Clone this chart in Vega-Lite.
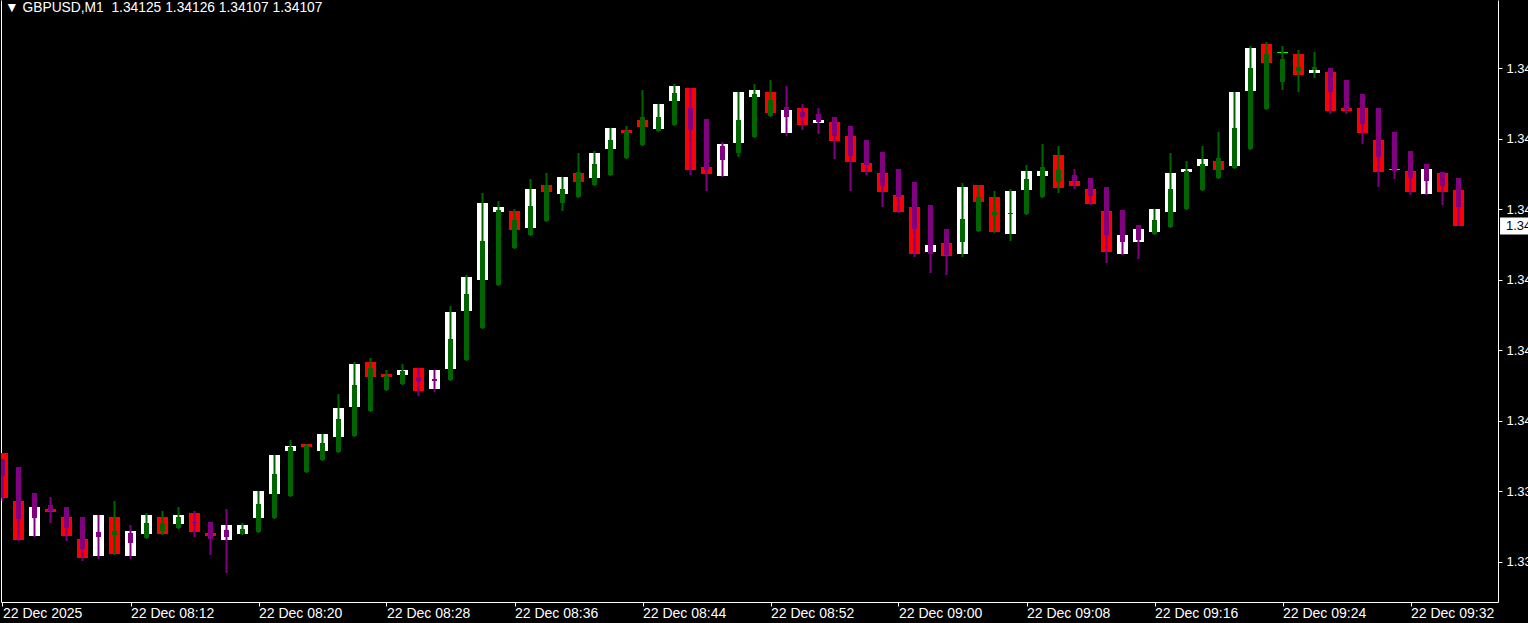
{
  "$schema": "https://vega.github.io/schema/vega-lite/v6.json",
  "width": 1497,
  "height": 602,
  "autosize": {"type": "none"},
  "padding": {"left": 1, "top": 0, "right": 30, "bottom": 21},
  "background": "#000000",
  "config": {"view": {"stroke": null}, "font": "Liberation Sans"},
  "title": {"text": "\u25bc\u00a0GBPUSD,M1\u00a0 1.34125 1.34126 1.34107 1.34107", "anchor": "start", "frame": "group", "orient": "top", "offset": -15, "baseline": "top", "color": "#ffffff", "font": "Liberation Sans", "fontSize": 13.8, "fontWeight": "normal", "dx": 4},
  "data": {"values": [
    {"t":"2025-12-22T08:04:00Z","o":1.339935,"c":1.339710,"ho":1.339905,"hh":1.339905,"hl":1.339695,"hc":1.339820},
    {"t":"2025-12-22T08:05:00Z","o":1.339695,"c":1.339500,"ho":1.339865,"hh":1.339865,"hl":1.339495,"hc":1.339605},
    {"t":"2025-12-22T08:06:00Z","o":1.339520,"c":1.339665,"ho":1.339735,"hh":1.339735,"hl":1.339515,"hc":1.339610},
    {"t":"2025-12-22T08:07:00Z","o":1.339655,"c":1.339640,"ho":1.339675,"hh":1.339715,"hl":1.339585,"hc":1.339645},
    {"t":"2025-12-22T08:08:00Z","o":1.339615,"c":1.339520,"ho":1.339665,"hh":1.339665,"hl":1.339495,"hc":1.339560},
    {"t":"2025-12-22T08:09:00Z","o":1.339505,"c":1.339410,"ho":1.339615,"hh":1.339615,"hl":1.339395,"hc":1.339455},
    {"t":"2025-12-22T08:10:00Z","o":1.339420,"c":1.339625,"ho":1.339540,"hh":1.339625,"hl":1.339405,"hc":1.339515},
    {"t":"2025-12-22T08:11:00Z","o":1.339615,"c":1.339430,"ho":1.339525,"hh":1.339695,"hl":1.339425,"hc":1.339545},
    {"t":"2025-12-22T08:12:00Z","o":1.339420,"c":1.339545,"ho":1.339535,"hh":1.339575,"hl":1.339405,"hc":1.339485},
    {"t":"2025-12-22T08:13:00Z","o":1.339530,"c":1.339625,"ho":1.339510,"hh":1.339635,"hl":1.339505,"hc":1.339585},
    {"t":"2025-12-22T08:14:00Z","o":1.339615,"c":1.339530,"ho":1.339545,"hh":1.339645,"hl":1.339525,"hc":1.339585},
    {"t":"2025-12-22T08:15:00Z","o":1.339580,"c":1.339625,"ho":1.339560,"hh":1.339665,"hl":1.339555,"hc":1.339615},
    {"t":"2025-12-22T08:16:00Z","o":1.339635,"c":1.339540,"ho":1.339590,"hh":1.339645,"hl":1.339515,"hc":1.339585},
    {"t":"2025-12-22T08:17:00Z","o":1.339535,"c":1.339520,"ho":1.339590,"hh":1.339590,"hl":1.339425,"hc":1.339505},
    {"t":"2025-12-22T08:18:00Z","o":1.339500,"c":1.339575,"ho":1.339550,"hh":1.339655,"hl":1.339335,"hc":1.339515},
    {"t":"2025-12-22T08:19:00Z","o":1.339530,"c":1.339575,"ho":1.339530,"hh":1.339585,"hl":1.339525,"hc":1.339555},
    {"t":"2025-12-22T08:20:00Z","o":1.339610,"c":1.339745,"ho":1.339540,"hh":1.339745,"hl":1.339535,"hc":1.339680},
    {"t":"2025-12-22T08:21:00Z","o":1.339730,"c":1.339925,"ho":1.339610,"hh":1.339925,"hl":1.339605,"hc":1.339830},
    {"t":"2025-12-22T08:22:00Z","o":1.339945,"c":1.339970,"ho":1.339720,"hh":1.340000,"hl":1.339715,"hc":1.339965},
    {"t":"2025-12-22T08:23:00Z","o":1.339980,"c":1.339965,"ho":1.339840,"hh":1.339980,"hl":1.339835,"hc":1.339970},
    {"t":"2025-12-22T08:24:00Z","o":1.339945,"c":1.340030,"ho":1.339900,"hh":1.340030,"hl":1.339895,"hc":1.339985},
    {"t":"2025-12-22T08:25:00Z","o":1.340015,"c":1.340160,"ho":1.339940,"hh":1.340230,"hl":1.339935,"hc":1.340105},
    {"t":"2025-12-22T08:26:00Z","o":1.340165,"c":1.340380,"ho":1.340020,"hh":1.340390,"hl":1.340015,"hc":1.340275},
    {"t":"2025-12-22T08:27:00Z","o":1.340390,"c":1.340315,"ho":1.340145,"hh":1.340410,"hl":1.340140,"hc":1.340360},
    {"t":"2025-12-22T08:28:00Z","o":1.340330,"c":1.340315,"ho":1.340250,"hh":1.340350,"hl":1.340245,"hc":1.340320},
    {"t":"2025-12-22T08:29:00Z","o":1.340325,"c":1.340350,"ho":1.340280,"hh":1.340380,"hl":1.340275,"hc":1.340345},
    {"t":"2025-12-22T08:30:00Z","o":1.340360,"c":1.340245,"ho":1.340315,"hh":1.340360,"hl":1.340220,"hc":1.340295},
    {"t":"2025-12-22T08:31:00Z","o":1.340255,"c":1.340350,"ho":1.340305,"hh":1.340350,"hl":1.340240,"hc":1.340295},
    {"t":"2025-12-22T08:32:00Z","o":1.340355,"c":1.340640,"ho":1.340300,"hh":1.340670,"hl":1.340295,"hc":1.340505},
    {"t":"2025-12-22T08:33:00Z","o":1.340645,"c":1.340815,"ho":1.340400,"hh":1.340825,"hl":1.340395,"hc":1.340730},
    {"t":"2025-12-22T08:34:00Z","o":1.340800,"c":1.341185,"ho":1.340560,"hh":1.341235,"hl":1.340555,"hc":1.340995},
    {"t":"2025-12-22T08:35:00Z","o":1.341140,"c":1.341165,"ho":1.340775,"hh":1.341195,"hl":1.340770,"hc":1.341150},
    {"t":"2025-12-22T08:36:00Z","o":1.341145,"c":1.341050,"ho":1.340960,"hh":1.341155,"hl":1.340955,"hc":1.341100},
    {"t":"2025-12-22T08:37:00Z","o":1.341060,"c":1.341255,"ho":1.341025,"hh":1.341305,"hl":1.341020,"hc":1.341170},
    {"t":"2025-12-22T08:38:00Z","o":1.341275,"c":1.341240,"ho":1.341095,"hh":1.341335,"hl":1.341090,"hc":1.341275},
    {"t":"2025-12-22T08:39:00Z","o":1.341230,"c":1.341315,"ho":1.341185,"hh":1.341315,"hl":1.341145,"hc":1.341255},
    {"t":"2025-12-22T08:40:00Z","o":1.341335,"c":1.341290,"ho":1.341215,"hh":1.341435,"hl":1.341210,"hc":1.341340},
    {"t":"2025-12-22T08:41:00Z","o":1.341310,"c":1.341435,"ho":1.341275,"hh":1.341445,"hl":1.341270,"hc":1.341380},
    {"t":"2025-12-22T08:42:00Z","o":1.341455,"c":1.341560,"ho":1.341325,"hh":1.341560,"hl":1.341320,"hc":1.341500},
    {"t":"2025-12-22T08:43:00Z","o":1.341550,"c":1.341535,"ho":1.341410,"hh":1.341570,"hl":1.341405,"hc":1.341545},
    {"t":"2025-12-22T08:44:00Z","o":1.341600,"c":1.341565,"ho":1.341475,"hh":1.341750,"hl":1.341470,"hc":1.341615},
    {"t":"2025-12-22T08:45:00Z","o":1.341555,"c":1.341680,"ho":1.341545,"hh":1.341680,"hl":1.341540,"hc":1.341615},
    {"t":"2025-12-22T08:46:00Z","o":1.341695,"c":1.341770,"ho":1.341575,"hh":1.341780,"hl":1.341570,"hc":1.341735},
    {"t":"2025-12-22T08:47:00Z","o":1.341760,"c":1.341350,"ho":1.341660,"hh":1.341760,"hl":1.341325,"hc":1.341550},
    {"t":"2025-12-22T08:48:00Z","o":1.341365,"c":1.341330,"ho":1.341605,"hh":1.341605,"hl":1.341245,"hc":1.341350},
    {"t":"2025-12-22T08:49:00Z","o":1.341320,"c":1.341480,"ho":1.341470,"hh":1.341490,"hl":1.341315,"hc":1.341400},
    {"t":"2025-12-22T08:50:00Z","o":1.341485,"c":1.341740,"ho":1.341435,"hh":1.341740,"hl":1.341415,"hc":1.341600},
    {"t":"2025-12-22T08:51:00Z","o":1.341715,"c":1.341750,"ho":1.341515,"hh":1.341780,"hl":1.341510,"hc":1.341730},
    {"t":"2025-12-22T08:52:00Z","o":1.341740,"c":1.341635,"ho":1.341620,"hh":1.341800,"hl":1.341615,"hc":1.341700},
    {"t":"2025-12-22T08:53:00Z","o":1.341535,"c":1.341650,"ho":1.341665,"hh":1.341770,"hl":1.341520,"hc":1.341615},
    {"t":"2025-12-22T08:54:00Z","o":1.341660,"c":1.341575,"ho":1.341640,"hh":1.341680,"hl":1.341550,"hc":1.341615},
    {"t":"2025-12-22T08:55:00Z","o":1.341585,"c":1.341600,"ho":1.341630,"hh":1.341660,"hl":1.341530,"hc":1.341590},
    {"t":"2025-12-22T08:56:00Z","o":1.341590,"c":1.341495,"ho":1.341615,"hh":1.341615,"hl":1.341405,"hc":1.341520},
    {"t":"2025-12-22T08:57:00Z","o":1.341520,"c":1.341390,"ho":1.341570,"hh":1.341570,"hl":1.341245,"hc":1.341420},
    {"t":"2025-12-22T08:58:00Z","o":1.341385,"c":1.341340,"ho":1.341500,"hh":1.341500,"hl":1.341325,"hc":1.341375},
    {"t":"2025-12-22T08:59:00Z","o":1.341335,"c":1.341240,"ho":1.341440,"hh":1.341440,"hl":1.341165,"hc":1.341270},
    {"t":"2025-12-22T09:00:00Z","o":1.341225,"c":1.341140,"ho":1.341355,"hh":1.341355,"hl":1.341135,"hc":1.341215},
    {"t":"2025-12-22T09:01:00Z","o":1.341165,"c":1.340930,"ho":1.341290,"hh":1.341290,"hl":1.340915,"hc":1.341055},
    {"t":"2025-12-22T09:02:00Z","o":1.340940,"c":1.340975,"ho":1.341175,"hh":1.341175,"hl":1.340835,"hc":1.340930},
    {"t":"2025-12-22T09:03:00Z","o":1.340985,"c":1.340920,"ho":1.341055,"hh":1.341055,"hl":1.340825,"hc":1.340925},
    {"t":"2025-12-22T09:04:00Z","o":1.340930,"c":1.341265,"ho":1.340990,"hh":1.341285,"hl":1.340915,"hc":1.341105},
    {"t":"2025-12-22T09:05:00Z","o":1.341275,"c":1.341190,"ho":1.341045,"hh":1.341275,"hl":1.341040,"hc":1.341215},
    {"t":"2025-12-22T09:06:00Z","o":1.341215,"c":1.341040,"ho":1.341125,"hh":1.341245,"hl":1.341035,"hc":1.341140},
    {"t":"2025-12-22T09:07:00Z","o":1.341030,"c":1.341245,"ho":1.341135,"hh":1.341255,"hl":1.340995,"hc":1.341135},
    {"t":"2025-12-22T09:08:00Z","o":1.341250,"c":1.341345,"ho":1.341130,"hh":1.341375,"hl":1.341125,"hc":1.341305},
    {"t":"2025-12-22T09:09:00Z","o":1.341320,"c":1.341345,"ho":1.341215,"hh":1.341480,"hl":1.341210,"hc":1.341365},
    {"t":"2025-12-22T09:10:00Z","o":1.341425,"c":1.341260,"ho":1.341290,"hh":1.341470,"hl":1.341235,"hc":1.341350},
    {"t":"2025-12-22T09:11:00Z","o":1.341295,"c":1.341270,"ho":1.341325,"hh":1.341355,"hl":1.341255,"hc":1.341295},
    {"t":"2025-12-22T09:12:00Z","o":1.341255,"c":1.341180,"ho":1.341310,"hh":1.341310,"hl":1.341175,"hc":1.341220},
    {"t":"2025-12-22T09:13:00Z","o":1.341145,"c":1.340940,"ho":1.341265,"hh":1.341265,"hl":1.340885,"hc":1.341025},
    {"t":"2025-12-22T09:14:00Z","o":1.340930,"c":1.341025,"ho":1.341150,"hh":1.341150,"hl":1.340925,"hc":1.340990},
    {"t":"2025-12-22T09:15:00Z","o":1.340990,"c":1.341055,"ho":1.341075,"hh":1.341075,"hl":1.340905,"hc":1.341000},
    {"t":"2025-12-22T09:16:00Z","o":1.341040,"c":1.341155,"ho":1.341030,"hh":1.341155,"hl":1.341025,"hc":1.341100},
    {"t":"2025-12-22T09:17:00Z","o":1.341140,"c":1.341335,"ho":1.341065,"hh":1.341435,"hl":1.341060,"hc":1.341255},
    {"t":"2025-12-22T09:18:00Z","o":1.341340,"c":1.341355,"ho":1.341155,"hh":1.341395,"hl":1.341150,"hc":1.341345},
    {"t":"2025-12-22T09:19:00Z","o":1.341370,"c":1.341405,"ho":1.341250,"hh":1.341470,"hl":1.341245,"hc":1.341380},
    {"t":"2025-12-22T09:20:00Z","o":1.341395,"c":1.341350,"ho":1.341310,"hh":1.341540,"hl":1.341305,"hc":1.341410},
    {"t":"2025-12-22T09:21:00Z","o":1.341370,"c":1.341740,"ho":1.341360,"hh":1.341740,"hl":1.341355,"hc":1.341560},
    {"t":"2025-12-22T09:22:00Z","o":1.341745,"c":1.341960,"ho":1.341455,"hh":1.341970,"hl":1.341450,"hc":1.341860},
    {"t":"2025-12-22T09:23:00Z","o":1.341980,"c":1.341885,"ho":1.341655,"hh":1.341990,"hl":1.341650,"hc":1.341930},
    {"t":"2025-12-22T09:24:00Z","o":1.341940,"c":1.341940,"ho":1.341790,"hh":1.341970,"hl":1.341750,"hc":1.341905},
    {"t":"2025-12-22T09:25:00Z","o":1.341930,"c":1.341825,"ho":1.341845,"hh":1.341950,"hl":1.341740,"hc":1.341865},
    {"t":"2025-12-22T09:26:00Z","o":1.341835,"c":1.341850,"ho":1.341850,"hh":1.341940,"hl":1.341810,"hc":1.341865},
    {"t":"2025-12-22T09:27:00Z","o":1.341840,"c":1.341645,"ho":1.341860,"hh":1.341860,"hl":1.341630,"hc":1.341740},
    {"t":"2025-12-22T09:28:00Z","o":1.341660,"c":1.341645,"ho":1.341800,"hh":1.341800,"hl":1.341630,"hc":1.341650},
    {"t":"2025-12-22T09:29:00Z","o":1.341660,"c":1.341535,"ho":1.341730,"hh":1.341730,"hl":1.341480,"hc":1.341580},
    {"t":"2025-12-22T09:30:00Z","o":1.341500,"c":1.341340,"ho":1.341660,"hh":1.341660,"hl":1.341265,"hc":1.341415},
    {"t":"2025-12-22T09:31:00Z","o":1.341355,"c":1.341355,"ho":1.341540,"hh":1.341540,"hl":1.341305,"hc":1.341345},
    {"t":"2025-12-22T09:32:00Z","o":1.341345,"c":1.341240,"ho":1.341445,"hh":1.341445,"hl":1.341225,"hc":1.341310},
    {"t":"2025-12-22T09:33:00Z","o":1.341230,"c":1.341355,"ho":1.341380,"hh":1.341380,"hl":1.341225,"hc":1.341295},
    {"t":"2025-12-22T09:34:00Z","o":1.341335,"c":1.341240,"ho":1.341340,"hh":1.341340,"hl":1.341175,"hc":1.341270},
    {"t":"2025-12-22T09:35:00Z","o":1.34125,"c":1.34107,"ho":1.341310,"hh":1.341310,"hl":1.34107,"hc":1.341165}
  ]},
  "encoding": {
    "x": {
      "field": "t", "type": "temporal",
      "scale": {"type": "utc", "padding": 0, "domain": [
        {"year": 2025, "month": 12, "date": 22, "hours": 8, "minutes": 3, "seconds": 54, "milliseconds": 375, "utc": true},
        {"year": 2025, "month": 12, "date": 22, "hours": 9, "minutes": 37, "seconds": 28, "milliseconds": 125, "utc": true}
      ]},
      "axis": {
        "values": [
          {"year": 2025, "month": 12, "date": 22, "hours": 8, "minutes": 4, "utc": true},
          {"year": 2025, "month": 12, "date": 22, "hours": 8, "minutes": 12, "utc": true},
          {"year": 2025, "month": 12, "date": 22, "hours": 8, "minutes": 20, "utc": true},
          {"year": 2025, "month": 12, "date": 22, "hours": 8, "minutes": 28, "utc": true},
          {"year": 2025, "month": 12, "date": 22, "hours": 8, "minutes": 36, "utc": true},
          {"year": 2025, "month": 12, "date": 22, "hours": 8, "minutes": 44, "utc": true},
          {"year": 2025, "month": 12, "date": 22, "hours": 8, "minutes": 52, "utc": true},
          {"year": 2025, "month": 12, "date": 22, "hours": 9, "minutes": 0, "utc": true},
          {"year": 2025, "month": 12, "date": 22, "hours": 9, "minutes": 8, "utc": true},
          {"year": 2025, "month": 12, "date": 22, "hours": 9, "minutes": 16, "utc": true},
          {"year": 2025, "month": 12, "date": 22, "hours": 9, "minutes": 24, "utc": true},
          {"year": 2025, "month": 12, "date": 22, "hours": 9, "minutes": 32, "utc": true}
        ],
        "labelExpr": "utcFormat(datum.value, '%H:%M') == '08:04' ? '22 Dec 2025' : utcFormat(datum.value, '%d %b %H:%M')",
        "domainColor": "#ffffff", "tickColor": "#ffffff", "tickSize": 4,
        "labelColor": "#ffffff", "labelFont": "Liberation Sans", "labelFontSize": 14,
        "labelAlign": "left", "labelPadding": 0, "labelOverlap": false, "labelFlush": false, "labelBound": false,
        "grid": false, "title": null
      }
    }
  },
  "layer": [
    {
      "mark": {"type": "bar", "width": 11, "clip": true},
      "encoding": {
        "y": {"field": "o", "type": "quantitative", "scale": {"domain": [1.33919, 1.3422], "nice": false, "zero": false, "padding": 0},
          "axis": {"orient": "right", "values": [1.3418585, 1.341506, 1.3411535, 1.340801, 1.3404485, 1.340096, 1.3397435, 1.339391],
            "format": ".5f", "domainColor": "#ffffff", "tickColor": "#ffffff", "tickSize": 4, "labelPadding": 4,
            "labelColor": "#ffffff", "labelFont": "Liberation Sans", "labelFontSize": 13,
            "labelOverlap": false, "labelFlush": false, "labelBound": false, "grid": false, "title": null}},
        "y2": {"field": "c"},
        "color": {"condition": [{"test": "datum.c > datum.o", "value": "#ffffff"}], "value": "#ff0000"}
      }
    },
    {
      "transform": [{"filter": "datum.o == datum.c"}],
      "mark": {"type": "bar", "width": 11, "y2Offset": 1, "color": "#00ff00", "clip": true},
      "encoding": {
        "y": {"field": "o", "type": "quantitative", "scale": {"domain": [1.33919, 1.3422], "nice": false, "zero": false, "padding": 0}, "axis": null},
        "y2": {"field": "c"}
      }
    },
    {
      "mark": {"type": "rule", "strokeWidth": 2, "clip": true},
      "encoding": {
        "y": {"field": "hl", "type": "quantitative", "scale": {"domain": [1.33919, 1.3422], "nice": false, "zero": false, "padding": 0},
          "axis": {"orient": "left", "labels": false, "ticks": false, "domainColor": "#ffffff", "grid": false, "title": null}},
        "y2": {"field": "hh"},
        "color": {"condition": [{"test": "datum.hc >= datum.ho", "value": "#006400"}], "value": "#800080"}
      }
    },
    {
      "mark": {"type": "bar", "width": 5, "clip": true},
      "encoding": {
        "y": {"field": "ho", "type": "quantitative", "scale": {"domain": [1.33919, 1.3422], "nice": false, "zero": false, "padding": 0}, "axis": null},
        "y2": {"field": "hc"},
        "color": {"condition": [{"test": "datum.hc >= datum.ho", "value": "#006400"}], "value": "#800080"}
      }
    },
    {
      "transform": [{"filter": "datum.ho == datum.hc"}],
      "mark": {"type": "bar", "width": 5, "y2Offset": 1, "color": "#006400", "clip": true},
      "encoding": {
        "y": {"field": "ho", "type": "quantitative", "scale": {"domain": [1.33919, 1.3422], "nice": false, "zero": false, "padding": 0}, "axis": null},
        "y2": {"field": "hc"}
      }
    },
    {
      "data": {"values": [{"bid": 1.34107}]},
      "mark": {"type": "point", "shape": "M0.24,-1H7V1H0.24Z", "size": 289, "filled": true, "color": "#ffffff", "opacity": 1, "strokeWidth": 0},
      "encoding": {
        "x": {"value": "width"},
        "y": {"field": "bid", "type": "quantitative", "scale": {"domain": [1.33919, 1.3422], "nice": false, "zero": false, "padding": 0}, "axis": null}
      }
    },
    {
      "data": {"values": [{"bid": 1.34107}]},
      "mark": {"type": "text", "align": "left", "baseline": "middle", "dx": 8, "color": "#000000", "font": "Liberation Sans", "fontSize": 13},
      "encoding": {
        "x": {"value": "width"},
        "y": {"field": "bid", "type": "quantitative", "scale": {"domain": [1.33919, 1.3422], "nice": false, "zero": false, "padding": 0}, "axis": null},
        "text": {"field": "bid", "type": "quantitative", "format": ".5f"}
      }
    }
  ],
  "resolve": {"axis": {"y": "independent"}}
}
